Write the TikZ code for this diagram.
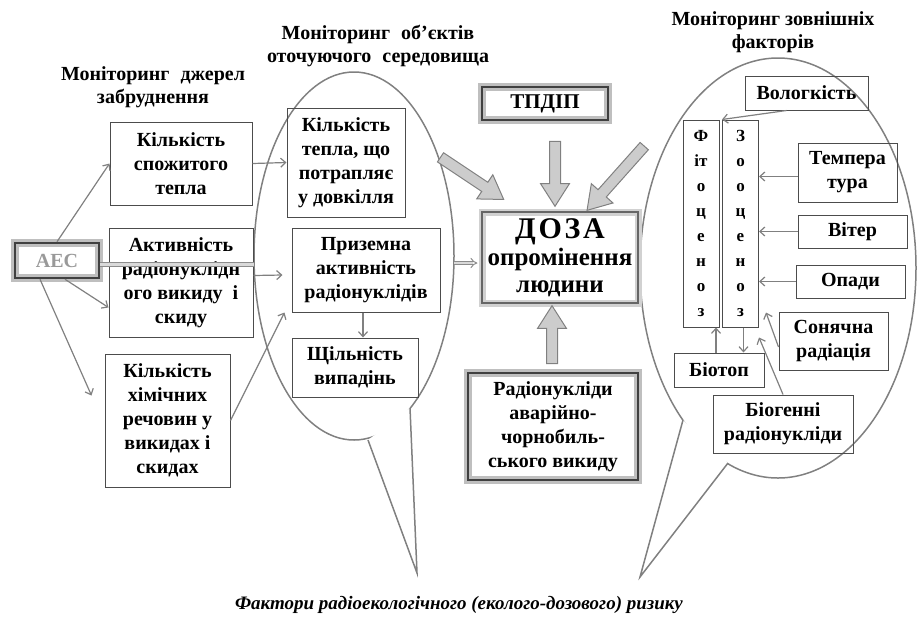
\documentclass[tikz,border=0pt]{standalone}
\usepackage{fontspec}
\setmainfont{Liberation Serif}
\usetikzlibrary{arrows.meta,shapes.arrows,positioning}

\begin{document}
\begin{tikzpicture}[x=1pt,y=-1pt,
    txt/.style={font=\fontsize{20}{24}\selectfont\bfseries, align=center},
    box/.style={txt, draw=black!70, line width=1pt, inner sep=1pt},
    glowbox/.style={box, draw=black!75, line width=2.5pt, preaction={draw=black!25, line width=8pt}},
    dosebox/.style={box, font=\fontsize{25}{27}\selectfont\bfseries, draw=black!60, line width=1.2pt, preaction={draw=black!18, line width=7pt}},
    col/.style={draw=black!70, line width=1pt, font=\fontsize{17}{25}\selectfont\bfseries, align=center, minimum width=36pt, minimum height=207pt, inner sep=0pt},
    title/.style={font=\fontsize{20}{23}\selectfont\bfseries, align=center},
    lnk/.style={draw=black!50, line width=1.2pt, -{Straight Barb[length=5pt,width=9pt]}},
    dbl/.style={draw=black!45, double=black!15, double distance=2.5pt, line width=1pt},
    bigarrow/.style={single arrow, draw=black!50, fill=black!20, line width=1pt, inner sep=5pt, minimum width=28pt, single arrow head extend=9pt, single arrow tip angle=65, sloped, allow upside down},
    bubble/.style={draw=black!50, line width=1.5pt}]
\useasboundingbox (0,0) rectangle (917,619);

\node[title] (T1) at (153,87) {Моніторинг\hspace{0.3em} джерел\\забруднення};
\node[title] (T2) at (378,46) {Моніторинг\hspace{0.3em} об’єктів\\оточуючого\hspace{0.3em} середовища};
\node[title] (T3) at (773,32) {Моніторинг зовнішніх\\факторів};
\node[font=\fontsize{19}{23}\selectfont\bfseries\itshape] (T4) at (459,605) {Фактори радіоекологічного (еколого-дозового) ризику};

\draw[bubble] (354,256) ellipse [x radius=100, y radius=184];
\draw[bubble, fill=white] (368,440) -- (417,573) -- (410,408);
\draw[bubble] (778,268) ellipse [x radius=138, y radius=210];
\draw[bubble, fill=white] (683,420) -- (640,577) -- (728,463);

\begin{scope}[every node/.style={box}]
    \node[glowbox, minimum width=84pt, minimum height=35pt, text=black!40] (AES) at (57,260.5) {АЕС};
    \node[minimum width=142pt, minimum height=83pt] (H1) at (181,163.5) {Кількість\\спожитого\\тепла};
    \node[minimum width=144pt, minimum height=109pt] (AR) at (181,282.5) {Активність\\радіонуклідн\\ого викиду~~і\\скиду};
    \node[minimum width=125pt, minimum height=133pt] (CH) at (167.5,420.5) {Кількість\\хімічних\\речовин у\\викидах і\\скидах};
    \node[minimum width=118pt, minimum height=109pt] (H2) at (346,162.5) {Кількість\\тепла, що\\потрапляє\\у довкілля};
    \node[minimum width=148pt, minimum height=84pt] (GA) at (366,270) {Приземна\\активність\\радіонуклідів};
    \node[minimum width=126pt, minimum height=59pt] (DF) at (355,367.5) {Щільність\\випадінь};
    \node[glowbox, minimum width=126pt, minimum height=33pt, font=\fontsize{21}{24}\selectfont\bfseries] (TP) at (545,103.5) {ТПДІП};
    \node[dosebox, minimum width=156pt, minimum height=91pt] (D) at (560,257.5) {{\fontsize{30}{27}\selectfont\addfontfeature{LetterSpace=9}ДОЗА}\\опромінення\\людини};
    \node[glowbox, minimum width=170pt, minimum height=107pt] (CR) at (553,426.5) {Радіонукліди\\аварійно-\\чорнобиль-\\ського викиду};
\end{scope}

\begin{scope}[every node/.style={box}]
    \node[minimum width=123pt, minimum height=34pt] (HU) at (806.5,93) {Вологкість};
    \node[col] (PH) at (701,223.5) {Ф\\іт\\о\\ц\\е\\н\\о\\з};
    \node[col] (ZO) at (740.5,223.5) {З\\о\\о\\ц\\е\\н\\о\\з};
    \node[minimum width=99pt, minimum height=59pt] (TE) at (847.5,172.5) {Темпера\\тура};
    \node[minimum width=109pt, minimum height=33pt] (WI) at (852.5,231.5) {Вітер};
    \node[minimum width=109pt, minimum height=33pt] (RA) at (850.5,281.5) {Опади};
    \node[minimum width=109pt, minimum height=58pt] (SU) at (833.5,341) {Сонячна\\радіація};
    \node[minimum width=90pt, minimum height=34pt] (BT) at (719,370) {Біотоп};
    \node[minimum width=140pt, minimum height=58pt] (BG) at (783,424) {Біогенні\\радіонукліди};
\end{scope}

\draw[dbl] ([yshift=-4pt]AES.east) -- ([yshift=-4pt]AES.east -| AR.east);
\draw[lnk] (AES.north) -- (H1.west);
\draw[lnk] ([xshift=8pt]AES.south) -- ([yshift=-25pt]AR.west);
\draw[lnk] ([xshift=-17pt]AES.south) -- ([xshift=-13pt,yshift=25pt]CH.west);
\draw[lnk] (H1.east) -- (H2.west);
\draw[lnk] ([yshift=7pt]AR.east) -- ([xshift=-9pt,yshift=-5pt]GA.west);
\draw[lnk] (CH.east) -- ([xshift=-7pt]GA.south west);
\draw[lnk] ([xshift=-3pt]GA.south) -- ([xshift=-3pt]GA.south |- DF.north);

\coordinate (E) at (454,263);
\draw[dbl, -{Implies}, shorten >=4pt] (E) -- (E -| D.west);

\coordinate (L1) at (437,155);
\coordinate (L2) at (500,197);
\coordinate (U1) at (555,137);
\coordinate (U2) at (555,202);
\coordinate (R1) at (647,143);
\coordinate (R2) at (590,207);
\coordinate (B1) at (552,368);
\coordinate (B2) at (552,310);
\path (L1) -- node[bigarrow, minimum height=76pt] (LA) {} (L2);
\path (U1) -- node[bigarrow, minimum height=65pt] (UA) {} (U2);
\path (R1) -- node[bigarrow, minimum height=86pt] (RA2) {} (R2);
\path (B1) -- node[bigarrow, minimum height=58pt] (BA) {} (B2);

\draw[lnk] ([xshift=-20pt]HU.south) -- (ZO.north west);
\draw[lnk] ([yshift=-4pt]TE.west) -- ([yshift=-4pt]TE.west -| ZO.east);
\draw[lnk] (WI.west) -- (WI.west -| ZO.east);
\draw[lnk] (RA.west) -- (RA.west -| ZO.east);
\draw[lnk] ([yshift=-6pt]SU.west) -- ([xshift=7pt,yshift=15pt]ZO.south east);
\draw[lnk] (BG.north) -- ([yshift=-10pt]ZO.south east);
\draw[lnk] ([xshift=-3pt]BT.north) -- ([xshift=-3pt]BT.north |- PH.south);
\draw[lnk] ([xshift=3pt]ZO.south) -- ([xshift=3pt]ZO.south |- BT.north);
\end{tikzpicture}
\end{document}
